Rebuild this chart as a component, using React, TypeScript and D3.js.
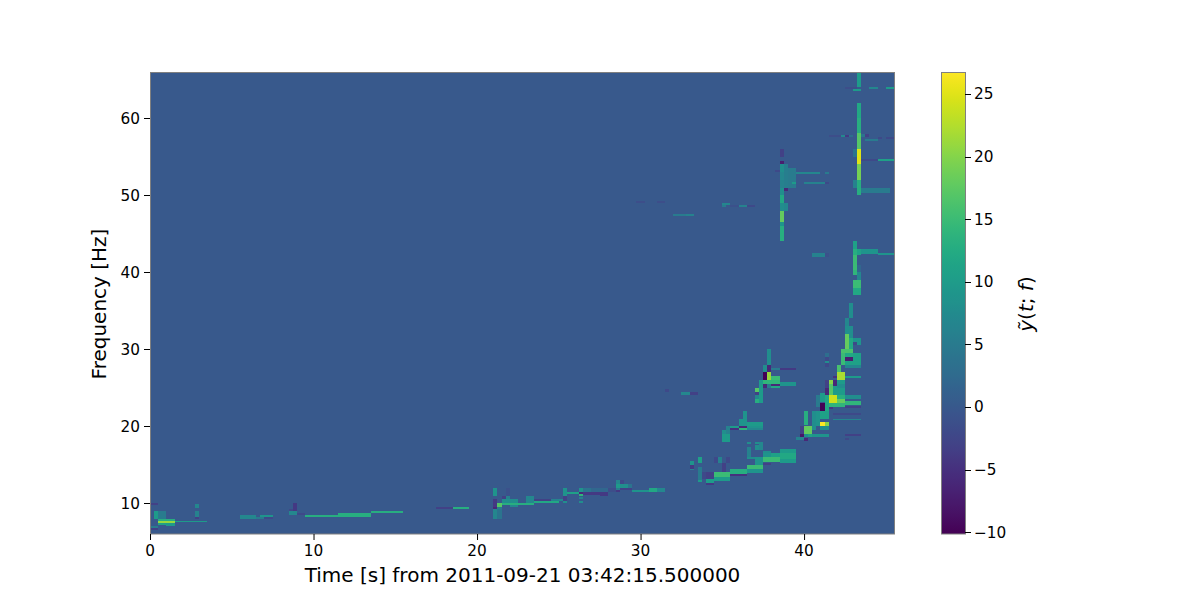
import React from 'react';
import * as d3 from 'd3';

type Cell = [number, number, number, number, number];

const xTicks = [0, 10, 20, 30, 40];
const yTicks = [10, 20, 30, 40, 50, 60];
const cTicks = [-10, -5, 0, 5, 10, 15, 20, 25];
const tRange: [number, number] = [0, 45.5];
const fRange: [number, number] = [6.04, 66];
const zRange: [number, number] = [-10.15, 26.75];

const earlyCells: Cell[] = [
  [0, .5, 9.81, 10.06, -3], [.25, .5, 7.99, 9.03, 10], [.5, 1, 7.99, 9.03, 5],
  [.5, 1.5, 7.73, 7.99, 13], [.5, 1.5, 7.47, 7.73, 21], [.5, 1, 7.21, 7.47, 11], [1, 1.5, 7.08, 7.47, 10],
  [1.5, 3.5, 7.6, 7.72, 10], [0, .5, 6.82, 7.08, 5], [0, .5, 6.56, 6.82, -3],
  [2.75, 3, 9.42, 9.94, 7], [2.75, 3, 8.25, 9.03, 6], [2.75, 3, 7.99, 8.25, -3],
  [5.5, 6.5, 7.99, 8.51, 7], [6.5, 7, 7.99, 8.25, 5], [6.75, 7.5, 8.25, 8.51, 9], [7, 7.5, 7.99, 8.25, -2],
  [8.75, 9, 9.03, 10.06, -4], [8.5, 8.75, 9.03, 9.29, -2], [8.5, 9, 8.51, 9.03, 7], [9, 9.5, 8.51, 8.77, -2],
  [9.5, 11.5, 8.25, 8.51, 13], [11.5, 13.5, 8.25, 8.77, 13], [13.5, 15.5, 8.77, 9.03, 13],
];

const midCells: Cell[] = [
  [17.5, 18.5, 9.29, 9.55, -3], [18.5, 19.5, 9.29, 9.55, 13],
  [21, 21.25, 10.97, 12.01, 9], [21, 21.25, 9.55, 10.58, -4], [21, 21.25, 9.29, 9.55, -6], [21, 21.25, 7.99, 9.29, 7],
  [21.25, 21.5, 9.55, 10.06, 17], [21.25, 21.5, 9.29, 9.55, 5], [21.25, 21.5, 7.99, 9.29, 4],
  [21.5, 21.75, 10.58, 10.97, -3], [21.75, 22, 10.06, 10.97, 6], [21.75, 22, 10.97, 12.01, -1],
  [21.5, 22.5, 10.06, 10.58, 8], [21.5, 23.5, 9.81, 10.06, 13], [22, 22.5, 9.55, 9.81, 7],
  [23, 23.5, 10.06, 10.97, 7], [23.5, 24.5, 10.32, 10.58, -3], [24.5, 25, 10.32, 10.58, 6],
  [23.5, 25, 10.06, 10.32, 12], [25, 25.25, 10.32, 10.58, 7],
  [25.25, 25.5, 10.97, 12.01, 9], [25.25, 25.5, 10.32, 10.97, -3], [25.25, 25.5, 10.06, 10.32, 8],
  [25.5, 26.25, 11.23, 11.49, 11],
  [26.25, 26.5, 11.49, 12.01, 9], [26.25, 26.5, 11.23, 11.49, -6], [26.25, 26.5, 10.97, 11.23, 14],
  [26.25, 26.5, 10.58, 10.84, 6], [26.25, 26.5, 10.06, 10.32, 8],
  [26.5, 27, 11.49, 12.01, 4], [27, 28, 11.49, 12.01, 2], [26.5, 27.5, 11.1, 11.49, -4], [27.5, 28, 10.97, 11.49, -4],
  [28, 28.5, 11.49, 12.01, -1.5],
  [28.5, 28.75, 12.53, 13.05, 7], [28.5, 28.75, 12.01, 12.53, 10], [28.5, 28.75, 11.75, 12.01, 5], [28.5, 28.75, 11.49, 11.75, -4],
  [28.75, 29, 12.53, 13.05, -2], [28.75, 29.25, 12.01, 12.53, 8], [29.25, 29.5, 12.01, 12.53, 4],
  [28.75, 29.5, 11.75, 12.01, -3], [29.5, 30.5, 11.49, 11.75, 9], [30.5, 31, 11.49, 12.01, 12], [31, 31.5, 11.49, 12.01, 7],
];

const chainCells: Cell[] = [
  [31.5, 31.75, 24.48, 24.87, -2], [32.5, 33, 24.09, 24.48, 7], [33, 33.5, 24.09, 24.48, -3],
  [33, 33.25, 15, 15.52, 9], [33, 33.25, 14.48, 15, -4], [33, 33.25, 14.35, 14.48, 6],
  [33.5, 33.75, 13.05, 14.74, 5], [33.5, 33.75, 12.79, 13.05, 10], [33.5, 33.75, 15.26, 16.04, 11],
  [33.75, 34, 13.18, 14.09, -2], [34, 34.5, 13.18, 14.09, -3], [34, 34.5, 12.66, 13.18, 10], [34, 34.5, 12.4, 12.66, -4],
  [34.5, 35.5, 13.44, 14.09, 15], [34.5, 35.5, 12.92, 13.44, 10],
  [34.5, 34.75, 15.26, 16.04, -2], [34.75, 35, 15.26, 16.04, 6], [35.25, 35.5, 15.26, 16.04, -2], [35, 35.25, 14.09, 15.26, -3],
  [35.5, 36.5, 13.83, 14.48, 13], [35.5, 36.5, 13.57, 13.83, -5], [36.5, 37.5, 13.96, 14.48, 9], [36.5, 37.5, 14.48, 15, 15],
  [37, 37.5, 15, 16.04, 9], [36.5, 37, 15.8, 16.04, 8], [37.5, 38.5, 15.39, 16.04, 15],
  [37.5, 38, 16.04, 16.56, 9], [38, 38.5, 16.04, 16.56, 11], [38.5, 39.5, 15.78, 16.56, 12], [38.5, 39.5, 15.26, 15.78, 10],
  [38.5, 39.5, 16.56, 17.08, 10], [37.5, 38, 16.56, 16.8, 8], [37.5, 38, 15, 15.26, -3],
  [36.5, 36.75, 17.73, 17.99, 8], [37, 37.25, 17.73, 17.99, 8], [37.25, 37.5, 16.95, 17.99, 7], [37, 37.25, 16.95, 17.6, 8], [36.5, 36.75, 16.04, 17.3, 6],
];

const midBranchCells: Cell[] = [
  [35, 35.5, 17.99, 19.03, 10], [35.25, 35.5, 19.03, 20.06, 6], [35, 35.25, 19.03, 19.55, 8],
  [35.5, 36, 19.81, 20.06, 10], [35.5, 36, 19.55, 19.81, -5], [36, 36.5, 19.81, 20.06, -6], [36, 36.5, 19.55, 19.81, 14],
  [36, 36.5, 20.06, 20.97, 9], [36.25, 36.5, 20.97, 22.01, 9],
  [36.5, 37.5, 20.06, 20.58, 10], [36.5, 37.5, 19.81, 20.06, 9], [36.5, 37.5, 19.55, 19.81, 7],
];

const branch26Cells: Cell[] = [
  [37, 37.25, 24.48, 25, 17], [37, 37.25, 24.09, 24.48, -3], [37, 37.25, 23.57, 24.09, 7], [37, 37.25, 23.05, 23.57, 13],
  [37.25, 37.5, 23.05, 26.04, 10], [37.5, 38.5, 25.52, 26.04, 14],
  [37.5, 37.75, 25, 25.52, -6], [37.75, 38, 25, 25.52, 5], [38, 38.5, 25.26, 25.52, -6], [38, 38.5, 25, 25.26, 12],
  [38.5, 39.5, 25.26, 25.78, 9],
  [37.5, 37.75, 26.04, 27.08, -10], [37.75, 38, 26.04, 27.08, 21], [38, 38.5, 26.04, 26.56, 15],
  [37.5, 37.75, 27.08, 27.99, 8], [37.75, 38, 27.08, 27.99, -6], [37.75, 38, 27.99, 30.06, 8],
  [38, 38.5, 27.34, 27.6, 5], [38.5, 39.5, 27.34, 27.6, -4],
];

const branch50Cells: Cell[] = [
  [38.5, 38.75, 55, 56.04, -3], [38.5, 38.75, 54.09, 54.48, -7], [38.5, 38.75, 53.05, 54.09, 8], [38.5, 38.75, 52.01, 53.05, 7],
  [38.5, 38.75, 50.97, 52.01, 6], [38.5, 38.75, 50.06, 50.97, 8], [38.5, 38.75, 49.03, 50.06, 12], [38.5, 38.75, 47.99, 49.03, 8],
  [38.5, 38.75, 46.56, 47.99, 18], [38.5, 38.75, 46.04, 46.56, 9], [38.5, 38.75, 44.09, 46.04, 13],
  [38.75, 39, 47.99, 49.03, 7], [38.75, 39, 50.97, 54.09, 5.5], [39, 39.5, 50.97, 53.57, 5],
  [39.5, 41, 52.79, 53.05, 7], [41.25, 41.5, 52.79, 53.05, 5], [39.25, 39.5, 51.49, 51.75, 10],
  [40, 41.25, 51.49, 51.75, 6], [41.25, 41.5, 51.49, 51.75, -2], [38.75, 39, 50.58, 50.97, -6], [38.25, 38.5, 53.05, 53.31, -2],
  [35, 35.5, 48.77, 49.03, 7], [35, 35.25, 48.5, 48.77, 5], [35.5, 36, 48.5, 48.77, -1], [36, 36.5, 48.5, 48.77, 6], [36.5, 37, 48.5, 48.77, -2],
  [32, 32.75, 47.35, 47.6, 5], [32.75, 33.25, 47.35, 47.6, 6], [29.75, 30.25, 49, 49.25, -1.5], [31, 31.5, 49, 49.25, -1.5],
  [40.5, 41.25, 42.01, 42.53, 6], [41.25, 41.5, 42.01, 42.53, -1],
];

const column43Cells: Cell[] = [
  [43.25, 43.5, 64, 66, 10], [43, 43.5, 63.5, 63.83, 10],
  [43.25, 43.5, 60.06, 62.01, 12], [43.25, 43.5, 58.12, 60.06, 13], [43.25, 43.5, 56.04, 58.12, 17],
  [43.25, 43.5, 54.09, 56.04, 25], [43.25, 43.5, 52.01, 54.09, 19], [43.25, 43.5, 50.06, 52.01, 13],
  [43, 43.25, 55, 56.04, 4], [43, 43.25, 51, 52.01, 6],
  [43.5, 44, 57.6, 57.99, 4], [43.75, 44, 57.6, 57.99, -3], [43.75, 44.5, 57.08, 57.34, 5],
  [44.5, 44.75, 57.34, 57.6, -2], [45, 45.5, 57.34, 57.6, -2],
  [43.5, 44.5, 54.48, 54.74, -2], [44.5, 45.5, 54.48, 54.74, 11], [43.5, 45.25, 50.32, 50.97, 5],
  [44, 44.5, 63.83, 64.09, 7], [45, 45.5, 63.83, 64.09, 10], [42.5, 43.25, 63.83, 64.09, -1.5],
  [41.5, 42.75, 57.6, 57.85, -1.5], [42.25, 42.5, 57.6, 57.85, 7], [42.5, 42.75, 57.6, 57.85, -4], [42.75, 43, 57.6, 57.85, 3],
  [43, 43.25, 43.05, 44.09, 11], [43, 43.25, 42.27, 43.05, 13], [43, 43.25, 40.32, 42.27, 15],
  [43.25, 43.5, 42.27, 43.05, 11], [43.5, 44.5, 42.4, 43.05, 9], [44.5, 45.5, 42.27, 42.53, 9],
  [43, 43.25, 39.67, 40.32, 14], [43.25, 43.5, 40.06, 40.97, 2], [43.25, 43.5, 39.03, 40.06, 7],
  [43, 43.5, 37.99, 39.03, 15], [43, 43.5, 37.08, 37.99, 12],
];

const branch30Cells: Cell[] = [
  [42.75, 43, 34.09, 36.04, 8], [42.5, 42.75, 33.05, 34.09, 7], [42.5, 42.75, 32.01, 33.05, 8], [42.75, 43, 31.49, 33.05, 8],
  [42.5, 42.75, 29.94, 32.01, 18], [42.75, 43, 29.94, 31.49, 12],
  [43, 43.5, 30.97, 31.49, 9], [43, 43.25, 30.58, 30.97, -2], [43.25, 43.5, 30.58, 30.97, 9],
  [42.25, 43, 29.55, 30.06, 16], [42.25, 42.5, 27.99, 29.55, 15], [42.5, 43, 29.03, 29.55, 12], [43, 43.5, 28.51, 29.55, 11],
  [42.5, 43, 28.51, 29.03, -7], [42.5, 43.5, 27.99, 28.51, 11], [42.5, 43.5, 27.6, 27.99, 7],
  [42, 42.25, 27.08, 27.99, 16], [42, 42.5, 26.04, 27.08, 22], [42.5, 43.5, 26.3, 26.56, 10],
  [42, 42.5, 25.52, 26.04, 10], [42, 42.5, 25, 25.52, 8], [41.75, 42, 26.3, 26.56, -5],
  [41.5, 41.75, 25.52, 26.04, 20], [41.75, 42, 25.26, 26.04, -6], [41.5, 41.75, 23.96, 25.52, 17],
  [41.25, 41.5, 25, 26.04, -3], [41.25, 41.5, 24.09, 25, -6], [41.75, 42, 24.09, 25.26, 10], [42, 42.5, 24.09, 25, 10],
  [41.25, 41.5, 29.03, 29.55, 3], [41.25, 41.5, 28.51, 29.03, -2], [41.25, 41.5, 28.25, 28.51, 8], [41.25, 41.5, 27.7, 28.25, -2],
];

const branch22Cells: Cell[] = [
  [41.5, 42, 23.05, 24.09, 24], [42, 42.5, 23.57, 24.09, 13], [42, 42.5, 23.05, 23.57, 18], [41.5, 42.5, 22.53, 23.05, 14],
  [42.5, 43.5, 22.79, 23.31, 14], [42.5, 43.5, 23.57, 24.09, 8], [42.5, 43.5, 22.4, 22.6, -3], [41.5, 41.75, 22.2, 22.5, -4],
  [41.75, 43.5, 21.49, 21.75, -2], [41.75, 43.5, 20.8, 20.97, 7],
  [41, 41.25, 23.18, 24.3, 10], [41, 41.25, 22.01, 23.05, -10], [41.25, 41.5, 22.01, 24.09, 12], [40.75, 41, 22.53, 24.09, 5],
  [41, 41.5, 20.97, 22.01, 11], [41, 41.25, 20.06, 20.58, 27], [41.25, 41.5, 20.06, 20.58, 20], [41, 41.5, 19.55, 20.06, 8],
  [40.5, 40.75, 19.55, 22.01, 8], [40.75, 41, 20.06, 22.01, 9], [40, 40.25, 20.19, 22.01, 13], [40, 40.5, 19.03, 20.06, 18],
  [39.75, 40, 19.03, 20.06, -3], [40.25, 40.5, 18.64, 19.03, 11], [40.5, 41.5, 18.64, 19.03, 9],
  [39.75, 40, 18.64, 19.03, -8], [40, 40.25, 18.64, 19.03, 8], [39.5, 40, 18.2, 18.64, 6], [40, 40.25, 18.12, 18.51, -6],
  [42.5, 43.5, 18.77, 19, -3], [42.5, 42.75, 18.2, 18.5, -2],
];

const allCells: Cell[] = [
  ...earlyCells, ...midCells, ...chainCells, ...midBranchCells, ...branch26Cells,
  ...branch50Cells, ...column43Cells, ...branch30Cells, ...branch22Cells,
];

const FONT = '"DejaVu Sans", sans-serif';
const TICK = '#000';
const EDGE = '#808080';

export default function App() {
  const x = d3.scaleLinear().domain(tRange).range([150, 894]);
  const y = d3.scaleLinear().domain(fRange).range([534, 72]);
  const c = d3.scaleLinear().domain(zRange).range([534, 72]);
  const color = (z: number) =>
    d3.interpolateViridis((z - zRange[0]) / (zRange[1] - zRange[0]));
  const stops = d3.range(0, 1.0001, 0.02);
  return (
    <svg width={1200} height={600} style={{ position: 'fixed', left: 0, top: 0, display: 'block' }} fontFamily={FONT}>
      <defs>
        <linearGradient id="vir" x1="0" y1="1" x2="0" y2="0">
          {stops.map((s) => (
            <stop key={s} offset={s} stopColor={d3.interpolateViridis(s)} />
          ))}
        </linearGradient>
      </defs>
      <rect width={1200} height={600} fill="#fff" />
      <rect x={150} y={72} width={744} height={462} fill={color(0)} />
      <g shapeRendering="crispEdges">
        {allCells.map(([t0, t1, f0, f1, z], i) => (
          <rect key={i} x={x(t0)} y={y(f1)} width={x(t1) - x(t0)} height={Math.max(1, y(f0) - y(f1))} fill={color(z)} />
        ))}
      </g>
      <rect x={150.5} y={72.5} width={744} height={461.5} fill="none" stroke={EDGE} strokeWidth={1} />
      {xTicks.map((t) => (
        <g key={t}>
          <line x1={x(t) + 0.5} x2={x(t) + 0.5} y1={534} y2={540} stroke={TICK} />
          <text x={x(t)} y={556} fontSize={15.3} textAnchor="middle" fill="#000">{t}</text>
        </g>
      ))}
      {yTicks.map((f) => (
        <g key={f}>
          <line x1={144} x2={150} y1={Math.round(y(f)) + 0.5} y2={Math.round(y(f)) + 0.5} stroke={TICK} />
          <text x={140} y={y(f) + 5.5} fontSize={15.3} textAnchor="end" fill="#000">{f}</text>
        </g>
      ))}
      <text x={522.5} y={582} fontSize={20} textAnchor="middle" fill="#000">Time [s] from 2011-09-21 03:42:15.500000</text>
      <text transform="translate(106,304) rotate(-90)" fontSize={20} textAnchor="middle" fill="#000">Frequency [Hz]</text>

      <rect x={941} y={72} width={24} height={462} fill="url(#vir)" />
      <rect x={941.5} y={72.5} width={24} height={461.5} fill="none" stroke={EDGE} />
      {cTicks.map((v) => (
        <g key={v}>
          <line x1={965} x2={971} y1={Math.round(c(v)) + 0.5} y2={Math.round(c(v)) + 0.5} stroke={TICK} />
          <text x={974} y={c(v) + 5.5} fontSize={15.3} fill="#000">{v < 0 ? `\u2212${-v}` : v}</text>
        </g>
      ))}
      <text transform="translate(1033,304) rotate(-90)" fontSize={20} textAnchor="middle" fill="#000">
        <tspan fontStyle="italic">ỹ</tspan>(<tspan fontStyle="italic">t</tspan>; <tspan fontStyle="italic">f</tspan>)
      </text>
    </svg>
  );
}
